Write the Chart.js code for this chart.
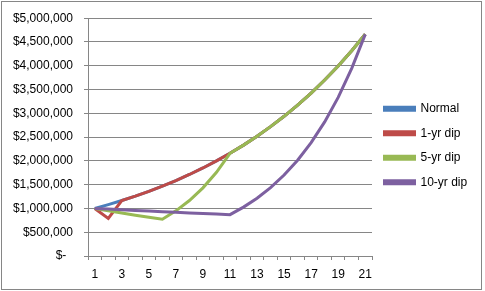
<!DOCTYPE html>
<html>
<head>
<meta charset="utf-8">
<script src="https://cdn.jsdelivr.net/npm/chart.js@4"></script>
<style>
  html, body { margin: 0; padding: 0; background: #fff; }
  #wrap { position: relative; width: 485px; height: 291px; }
  #grafica { position: absolute; left: 0; top: 0; }
  #marco { position: absolute; left: 1px; top: 1px; width: 479px; height: 287px; border: 1px solid #868686; pointer-events: none; }
</style>
</head>
<body>
<div id="wrap">
  <canvas id="grafica" width="485" height="291"></canvas>
  <div id="marco"></div>
</div>
<script>
// Años
const anios = ["1","2","3","4","5","6","7","8","9","10","11","12","13","14","15","16","17","18","19","20","21"];

// Valores
const normal = [1000000, 1080000, 1166400, 1259712, 1360489, 1469328, 1586874, 1713824, 1850930, 1999005,
  2158925, 2331639, 2518170, 2719624, 2937194, 3172169, 3425943, 3700018, 3996019, 4315701, 4660957];
const dip1 = [1000000, 790000, 1166400, 1259712, 1360489, 1469328, 1586874, 1713824, 1850930, 1999005,
  2158925, 2331639, 2518170, 2719624, 2937194, 3172169, 3425943, 3700018, 3996019, 4315701, 4660957];
const dip5 = [1000000, 950000, 902500, 857375, 814506, 773781, 950000, 1167000, 1433000, 1759000,
  2158925, 2331639, 2518170, 2719624, 2937194, 3172169, 3425943, 3700018, 3996019, 4315701, 4660957];
const dip10 = [1000000, 986000, 972000, 958000, 945000, 932000, 919000, 906000, 893000, 881000,
  869000, 1028000, 1216000, 1439000, 1702000, 2014000, 2383000, 2819000, 3335000, 3946000, 4660957];

const series = ["Normal", "1-yr dip", "5-yr dip", "10-yr dip"];
const colores = ["#4A7EBB", "#BE4B48", "#98B954", "#7D60A0"];

const fuente = { family: "'Liberation Sans', Arial, sans-serif", size: 12 };
const gris = "#868686";

// Ancho de la leyenda para que el area del grafico termine en x=372
const medir = document.createElement("canvas").getContext("2d");
medir.font = "12px 'Liberation Sans', Arial, sans-serif";
const textoMax = Math.max(...series.map(s => medir.measureText(s).width));
const anchoLeyenda = 12.5 + 30 + 6 + textoMax + 10;
const padDerecho = 485 - 372 - anchoLeyenda;

function serie(i, valores) {
  return {
    label: series[i],
    data: valores,
    borderColor: colores[i],
    backgroundColor: colores[i],
    borderWidth: 3,
    pointRadius: 0,
    tension: 0,
    order: 4 - i,
  };
}

new Chart(document.getElementById("grafica").getContext("2d"), {
  type: "line",
  data: {
    labels: anios,
    datasets: [serie(0, normal), serie(1, dip1), serie(2, dip5), serie(3, dip10)],
  },
  options: {
    responsive: false,
    animation: false,
    layout: { padding: { left: 0, top: 0, right: padDerecho, bottom: 0 } },
    plugins: {
      tooltip: { enabled: false },
      // titulo vacio: solo deja el espacio sobre el area del grafico
      title: { display: true, text: "", fullSize: false, padding: 0, font: { size: 16, lineHeight: 1 } },
      legend: {
        position: "right",
        labels: {
          boxWidth: 30,
          boxHeight: 3,
          padding: 12.5,
          color: "#000",
          font: fuente,
          sort: (a, b) => a.datasetIndex - b.datasetIndex,
        },
      },
    },
    scales: {
      x: {
        offset: true,
        grid: { drawOnChartArea: false, drawTicks: true, tickLength: 4, offset: true, color: gris },
        border: { color: gris },
        ticks: {
          autoSkip: false,
          maxRotation: 0,
          padding: 7,
          color: "#000",
          font: fuente,
          callback: function (v, i) { return i % 2 === 0 ? anios[i] : ""; },
        },
        afterFit: s => { s.height = 35; },
      },
      y: {
        min: 0,
        max: 5000000,
        grid: { color: gris, tickLength: 4 },
        border: { color: gris },
        ticks: {
          stepSize: 500000,
          padding: 11,
          color: "#000",
          font: fuente,
          callback: v => v === 0 ? "$-  " : "$" + v.toLocaleString("en-US"),
        },
        afterFit: s => { s.width = 88; },
      },
    },
  },
});
</script>
</body>
</html>
